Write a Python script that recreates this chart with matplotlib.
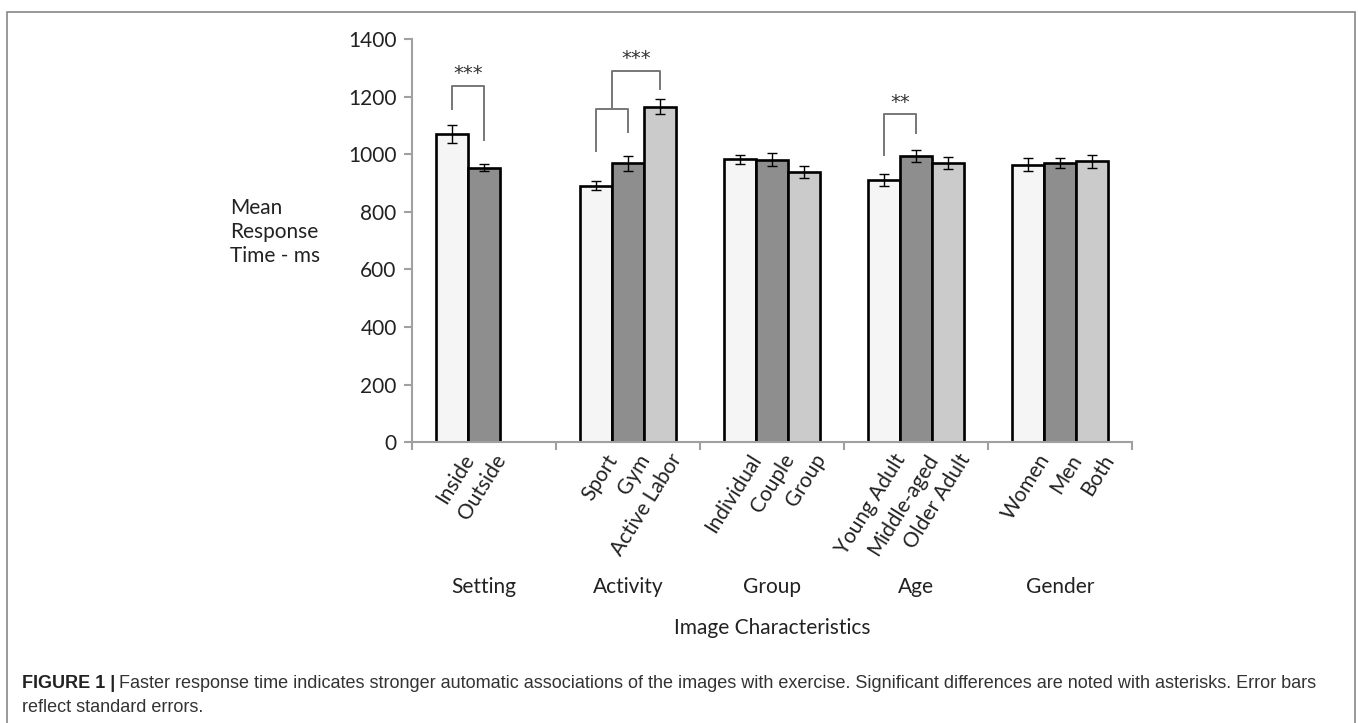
import numpy as np
import matplotlib
matplotlib.use('Agg')
import matplotlib.pyplot as plt
from matplotlib.patches import Rectangle
import matplotlib.patheffects as pe
import matplotlib.transforms as mtransforms

# ----- data -----
groups = ['Setting', 'Activity', 'Group', 'Age', 'Gender']
labels = [['Inside', 'Outside'],
          ['Sport', 'Gym', 'Active Labor'],
          ['Individual', 'Couple', 'Group'],
          ['Young Adult', 'Middle-aged', 'Older Adult'],
          ['Women', 'Men', 'Both']]
means = [[1070, 953],
         [891, 969, 1165],
         [983, 981, 938],
         [911, 995, 969],
         [964, 969, 976]]
errs = [[32, 12],
        [15, 26, 27],
        [16, 22, 21],
        [20, 21, 22],
        [22, 18, 23]]
yticks = [0, 200, 400, 600, 800, 1000, 1200, 1400]

# significance brackets: (group, left bar, right bar, left leg bottom, right leg bottom, top, stars)
brackets = [(0, 0, 1, 1158, 1049, 1238, '***'),
            (1, 0, 1, 1012, 1076, 1157, None),
            (3, 0, 1, 999, 1074, 1138, '**')]
# outer activity bracket: from middle of inner bracket to Active Labor bar
outer = (1, 2, 1157, 1228, 1290, '***')

colors = ['#f5f5f5', '#8e8e8e', '#cbcbcb']
width = 0.224
offsets = [-width, 0, width]

plt.rcParams['font.family'] = ['Lato', 'DejaVu Sans']
FS = 15

fig = plt.figure(figsize=(13.58, 7.23), dpi=100)
ax = fig.add_axes([412 / 1358, 1 - 442.3 / 723, 720 / 1358, 403.3 / 723])

shadow = [pe.SimplePatchShadow(offset=(1.5, -1.5), shadow_rgbFace='#bbbbbb', alpha=0.6), pe.Normal()]

bar_x = []
bar_lab = []
for gi, g in enumerate(groups):
    for bi, (m, e) in enumerate(zip(means[gi], errs[gi])):
        x = gi + offsets[bi]
        b = ax.bar(x, m, width, color=colors[bi], edgecolor='black', linewidth=1.9, zorder=2)
        for p in b:
            p.set_path_effects(shadow)
        ax.errorbar(x, m, yerr=e, fmt='none', ecolor='black', elinewidth=1.0, capsize=3.5,
                    capthick=1.0, zorder=3)
        bar_x.append(x)
        bar_lab.append(labels[gi][bi])

bcol = '#777777'
for gi, l, r, yl, yr, top, stars in brackets:
    xl = gi + offsets[l]
    xr = gi + offsets[r]
    ax.plot([xl, xl, xr, xr], [yl, top, top, yr], color=bcol, lw=1.4, zorder=4, clip_on=False)
    if stars:
        ax.text((xl + xr) / 2, top + 8, stars, ha='center', va='bottom', fontsize=14,
                color='#333333', family='DejaVu Sans')

gi, rb, ystart, yr, top, stars = outer
xl = gi + (offsets[0] + offsets[1]) / 2
xr = gi + offsets[rb]
ax.plot([xl, xl, xr, xr], [ystart, top, top, yr], color=bcol, lw=1.4, zorder=4, clip_on=False)
ax.text((xl + xr) / 2, top + 8, stars, ha='center', va='bottom', fontsize=14,
        color='#333333', family='DejaVu Sans')

ax.set_xlim(-0.5, len(groups) - 0.5)
ax.set_ylim(0, 1400)
ax.set_yticks(yticks)
ax.set_yticklabels([str(v) for v in yticks], fontsize=FS, color='#222222')
ax.set_xticks(np.arange(len(groups) + 1) - 0.5)
ax.set_xticklabels([])
ax.set_xticks(bar_x, minor=True)
ax.set_xticklabels(bar_lab, minor=True, rotation=58, ha='right', rotation_mode='anchor',
                   fontsize=FS, color='#222222')
ax.tick_params(axis='x', which='minor', length=0, pad=6)
ax.tick_params(axis='both', which='major', length=6, width=1.5, color='#a0a0a0', direction='out')
ax.tick_params(axis='y', pad=5)
shift = mtransforms.ScaledTranslation(9 / 100, 0, fig.dpi_scale_trans)
for lbl in ax.get_xticklabels(minor=True):
    lbl.set_transform(lbl.get_transform() + shift)

for s in ['top', 'right']:
    ax.spines[s].set_visible(False)
for s in ['left', 'bottom']:
    ax.spines[s].set_color('#a0a0a0')
    ax.spines[s].set_linewidth(1.5)

# group names under the rotated labels
for gi, g in enumerate(groups):
    fig.text((412 + 144 * (gi + 0.5)) / 1358, 1 - 587 / 723, g, ha='center', va='center',
             fontsize=FS, color='#222222')
fig.text(772 / 1358, 1 - 628 / 723, 'Image Characteristics', ha='center', va='center',
         fontsize=FS, color='#222222')
fig.text(230 / 1358, 1 - 232 / 723, 'Mean\nResponse\nTime - ms', ha='left', va='center',
         fontsize=FS, color='#222222', linespacing=1.25)

# frame
fig.add_artist(Rectangle((7 / 1358, -0.01), (1355 - 7) / 1358, 1 - 12 / 723 + 0.01,
                         transform=fig.transFigure, fill=False, edgecolor='#888888', lw=1.2))

# caption
cap_y1 = 1 - 684 / 723
cap_y2 = 1 - 707 / 723
CFS = 13.0
t1 = fig.text(22 / 1358, cap_y1, 'FIGURE 1 |', fontsize=CFS, fontweight='bold',
              family='Liberation Sans', va='center', color='#222222')
fig.canvas.draw()
bb = t1.get_window_extent(fig.canvas.get_renderer())
fig.text(bb.x1 / 1358 + 4 / 1358, cap_y1,
         'Faster response time indicates stronger automatic associations of the images with exercise. '
         'Significant differences are noted with asterisks. Error bars',
         fontsize=CFS, family='Liberation Sans', va='center', color='#333333')
fig.text(22 / 1358, cap_y2, 'reflect standard errors.', fontsize=CFS,
         family='Liberation Sans', va='center', color='#333333')

fig.savefig('out.png', dpi=100)
